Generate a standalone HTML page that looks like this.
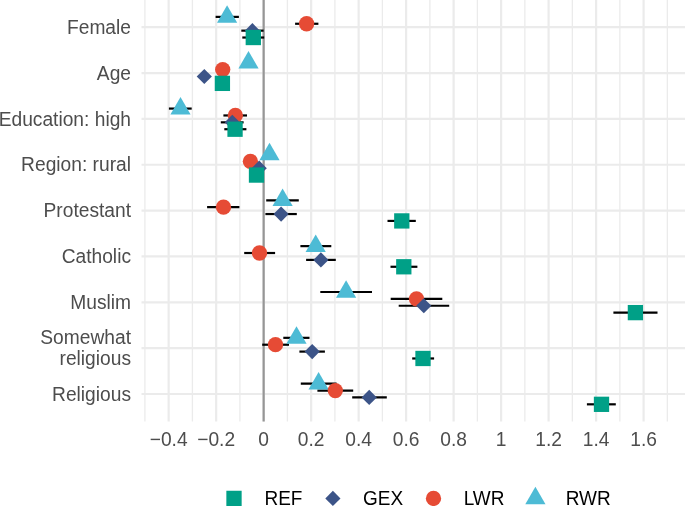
<!DOCTYPE html>
<html><head><meta charset="utf-8"><style>
html,body{margin:0;padding:0;background:#fff;}
body{width:685px;height:506px;overflow:hidden;}
svg{display:block;will-change:transform;}
text{font-family:"Liberation Sans",sans-serif;}
</style></head><body>
<svg width="685" height="506" viewBox="0 0 685 506">
<rect width="685" height="506" fill="#fff"/>

<line x1="144.91" y1="0" x2="144.91" y2="421.5" stroke="#EBEBEB" stroke-width="1.3"/>
<line x1="192.41" y1="0" x2="192.41" y2="421.5" stroke="#EBEBEB" stroke-width="1.3"/>
<line x1="239.9" y1="0" x2="239.9" y2="421.5" stroke="#EBEBEB" stroke-width="1.3"/>
<line x1="287.4" y1="0" x2="287.4" y2="421.5" stroke="#EBEBEB" stroke-width="1.3"/>
<line x1="334.89" y1="0" x2="334.89" y2="421.5" stroke="#EBEBEB" stroke-width="1.3"/>
<line x1="382.38" y1="0" x2="382.38" y2="421.5" stroke="#EBEBEB" stroke-width="1.3"/>
<line x1="429.88" y1="0" x2="429.88" y2="421.5" stroke="#EBEBEB" stroke-width="1.3"/>
<line x1="477.37" y1="0" x2="477.37" y2="421.5" stroke="#EBEBEB" stroke-width="1.3"/>
<line x1="524.87" y1="0" x2="524.87" y2="421.5" stroke="#EBEBEB" stroke-width="1.3"/>
<line x1="572.36" y1="0" x2="572.36" y2="421.5" stroke="#EBEBEB" stroke-width="1.3"/>
<line x1="619.86" y1="0" x2="619.86" y2="421.5" stroke="#EBEBEB" stroke-width="1.3"/>
<line x1="667.35" y1="0" x2="667.35" y2="421.5" stroke="#EBEBEB" stroke-width="1.3"/>
<line x1="141.5" y1="27.2" x2="685" y2="27.2" stroke="#EBEBEB" stroke-width="2.2"/>
<line x1="141.5" y1="73.05" x2="685" y2="73.05" stroke="#EBEBEB" stroke-width="2.2"/>
<line x1="141.5" y1="118.9" x2="685" y2="118.9" stroke="#EBEBEB" stroke-width="2.2"/>
<line x1="141.5" y1="164.75" x2="685" y2="164.75" stroke="#EBEBEB" stroke-width="2.2"/>
<line x1="141.5" y1="210.6" x2="685" y2="210.6" stroke="#EBEBEB" stroke-width="2.2"/>
<line x1="141.5" y1="256.45" x2="685" y2="256.45" stroke="#EBEBEB" stroke-width="2.2"/>
<line x1="141.5" y1="302.3" x2="685" y2="302.3" stroke="#EBEBEB" stroke-width="2.2"/>
<line x1="141.5" y1="348.15" x2="685" y2="348.15" stroke="#EBEBEB" stroke-width="2.2"/>
<line x1="141.5" y1="394" x2="685" y2="394" stroke="#EBEBEB" stroke-width="2.2"/>
<line x1="168.66" y1="0" x2="168.66" y2="421.5" stroke="#EBEBEB" stroke-width="2.2"/>
<line x1="216.16" y1="0" x2="216.16" y2="421.5" stroke="#EBEBEB" stroke-width="2.2"/>
<line x1="263.65" y1="0" x2="263.65" y2="421.5" stroke="#EBEBEB" stroke-width="2.2"/>
<line x1="311.14" y1="0" x2="311.14" y2="421.5" stroke="#EBEBEB" stroke-width="2.2"/>
<line x1="358.64" y1="0" x2="358.64" y2="421.5" stroke="#EBEBEB" stroke-width="2.2"/>
<line x1="406.13" y1="0" x2="406.13" y2="421.5" stroke="#EBEBEB" stroke-width="2.2"/>
<line x1="453.63" y1="0" x2="453.63" y2="421.5" stroke="#EBEBEB" stroke-width="2.2"/>
<line x1="501.12" y1="0" x2="501.12" y2="421.5" stroke="#EBEBEB" stroke-width="2.2"/>
<line x1="548.61" y1="0" x2="548.61" y2="421.5" stroke="#EBEBEB" stroke-width="2.2"/>
<line x1="596.11" y1="0" x2="596.11" y2="421.5" stroke="#EBEBEB" stroke-width="2.2"/>
<line x1="643.6" y1="0" x2="643.6" y2="421.5" stroke="#EBEBEB" stroke-width="2.2"/>
<line x1="263.65" y1="0" x2="263.65" y2="421.5" stroke="#969696" stroke-width="2.2"/>
<line x1="242.3" y1="37.52" x2="264.2" y2="37.52" stroke="#000" stroke-width="2.2"/>
<line x1="241.3" y1="30.64" x2="263.6" y2="30.64" stroke="#000" stroke-width="2.2"/>
<line x1="295.1" y1="23.76" x2="318.4" y2="23.76" stroke="#000" stroke-width="2.2"/>
<line x1="215.6" y1="16.88" x2="238.9" y2="16.88" stroke="#000" stroke-width="2.2"/>
<line x1="224.3" y1="129.22" x2="246.4" y2="129.22" stroke="#000" stroke-width="2.2"/>
<line x1="220.8" y1="122.34" x2="243.6" y2="122.34" stroke="#000" stroke-width="2.2"/>
<line x1="223.4" y1="115.46" x2="247" y2="115.46" stroke="#000" stroke-width="2.2"/>
<line x1="168.9" y1="108.58" x2="191.7" y2="108.58" stroke="#000" stroke-width="2.2"/>
<line x1="387.5" y1="220.92" x2="415.8" y2="220.92" stroke="#000" stroke-width="2.2"/>
<line x1="265.4" y1="214.04" x2="296.8" y2="214.04" stroke="#000" stroke-width="2.2"/>
<line x1="207.1" y1="207.16" x2="239.4" y2="207.16" stroke="#000" stroke-width="2.2"/>
<line x1="266.2" y1="200.28" x2="298.8" y2="200.28" stroke="#000" stroke-width="2.2"/>
<line x1="390.5" y1="266.77" x2="417.4" y2="266.77" stroke="#000" stroke-width="2.2"/>
<line x1="306.1" y1="259.89" x2="335.8" y2="259.89" stroke="#000" stroke-width="2.2"/>
<line x1="244.2" y1="253.01" x2="275.1" y2="253.01" stroke="#000" stroke-width="2.2"/>
<line x1="300.4" y1="246.13" x2="331.3" y2="246.13" stroke="#000" stroke-width="2.2"/>
<line x1="613.4" y1="312.62" x2="657.5" y2="312.62" stroke="#000" stroke-width="2.2"/>
<line x1="398.7" y1="305.74" x2="449.2" y2="305.74" stroke="#000" stroke-width="2.2"/>
<line x1="390.7" y1="298.86" x2="442.3" y2="298.86" stroke="#000" stroke-width="2.2"/>
<line x1="320.3" y1="291.98" x2="372" y2="291.98" stroke="#000" stroke-width="2.2"/>
<line x1="412.2" y1="358.47" x2="434.1" y2="358.47" stroke="#000" stroke-width="2.2"/>
<line x1="299.4" y1="351.59" x2="324.9" y2="351.59" stroke="#000" stroke-width="2.2"/>
<line x1="262.2" y1="344.71" x2="289" y2="344.71" stroke="#000" stroke-width="2.2"/>
<line x1="283.3" y1="337.83" x2="309.5" y2="337.83" stroke="#000" stroke-width="2.2"/>
<line x1="586.9" y1="404.32" x2="615.8" y2="404.32" stroke="#000" stroke-width="2.2"/>
<line x1="352.2" y1="397.44" x2="386.8" y2="397.44" stroke="#000" stroke-width="2.2"/>
<line x1="317.4" y1="390.56" x2="353.2" y2="390.56" stroke="#000" stroke-width="2.2"/>
<line x1="300.8" y1="383.68" x2="336.6" y2="383.68" stroke="#000" stroke-width="2.2"/>
<path d="M227.1 5.21L237.2 22.71L217 22.71Z" fill="#4DBBD5"/>
<circle cx="306.6" cy="23.76" r="7.65" fill="#E64B35"/>
<path d="M252.4 23.04L260 30.64L252.4 38.24L244.8 30.64Z" fill="#3C5488"/>
<rect x="245.65" y="29.87" width="15.3" height="15.3" fill="#00A087"/>
<path d="M248.5 51.06L258.6 68.56L238.4 68.56Z" fill="#4DBBD5"/>
<circle cx="222.7" cy="69.61" r="7.65" fill="#E64B35"/>
<path d="M204.3 68.89L211.9 76.49L204.3 84.09L196.7 76.49Z" fill="#3C5488"/>
<rect x="214.75" y="75.72" width="15.3" height="15.3" fill="#00A087"/>
<path d="M180.5 96.91L190.6 114.41L170.4 114.41Z" fill="#4DBBD5"/>
<circle cx="235.35" cy="115.46" r="7.65" fill="#E64B35"/>
<path d="M232.3 114.74L239.9 122.34L232.3 129.94L224.7 122.34Z" fill="#3C5488"/>
<rect x="227.4" y="121.57" width="15.3" height="15.3" fill="#00A087"/>
<path d="M269.5 142.76L279.6 160.26L259.4 160.26Z" fill="#4DBBD5"/>
<circle cx="250.4" cy="161.31" r="7.65" fill="#E64B35"/>
<path d="M259.2 160.59L266.8 168.19L259.2 175.79L251.6 168.19Z" fill="#3C5488"/>
<rect x="248.85" y="167.42" width="15.3" height="15.3" fill="#00A087"/>
<path d="M282.6 188.61L292.7 206.11L272.5 206.11Z" fill="#4DBBD5"/>
<circle cx="223.5" cy="207.16" r="7.65" fill="#E64B35"/>
<path d="M281.1 206.44L288.7 214.04L281.1 221.64L273.5 214.04Z" fill="#3C5488"/>
<rect x="394.15" y="213.27" width="15.3" height="15.3" fill="#00A087"/>
<path d="M315.7 234.46L325.8 251.96L305.6 251.96Z" fill="#4DBBD5"/>
<circle cx="259.5" cy="253.01" r="7.65" fill="#E64B35"/>
<path d="M320.9 252.29L328.5 259.89L320.9 267.49L313.3 259.89Z" fill="#3C5488"/>
<rect x="396.15" y="259.12" width="15.3" height="15.3" fill="#00A087"/>
<path d="M346.1 280.31L356.2 297.81L336 297.81Z" fill="#4DBBD5"/>
<circle cx="416.5" cy="298.86" r="7.65" fill="#E64B35"/>
<path d="M423.8 298.14L431.4 305.74L423.8 313.34L416.2 305.74Z" fill="#3C5488"/>
<rect x="627.75" y="304.97" width="15.3" height="15.3" fill="#00A087"/>
<path d="M296.5 326.16L306.6 343.66L286.4 343.66Z" fill="#4DBBD5"/>
<circle cx="275.5" cy="344.71" r="7.65" fill="#E64B35"/>
<path d="M312.2 343.99L319.8 351.59L312.2 359.19L304.6 351.59Z" fill="#3C5488"/>
<rect x="415.35" y="350.82" width="15.3" height="15.3" fill="#00A087"/>
<path d="M318.6 372.01L328.7 389.51L308.5 389.51Z" fill="#4DBBD5"/>
<circle cx="335.3" cy="390.56" r="7.65" fill="#E64B35"/>
<path d="M369.2 389.84L376.8 397.44L369.2 405.04L361.6 397.44Z" fill="#3C5488"/>
<rect x="593.85" y="396.67" width="15.3" height="15.3" fill="#00A087"/>
<text transform="translate(131 33.8) scale(1 1.03)" font-size="19.2" fill="#4D4D4D" text-anchor="end">Female</text>
<text transform="translate(131 79.65) scale(1 1.03)" font-size="19.2" fill="#4D4D4D" text-anchor="end">Age</text>
<text transform="translate(131 125.5) scale(1 1.03)" font-size="19.2" fill="#4D4D4D" text-anchor="end">Education: high</text>
<text transform="translate(131 171.35) scale(1 1.03)" font-size="19.2" fill="#4D4D4D" text-anchor="end">Region: rural</text>
<text transform="translate(131 217.2) scale(1 1.03)" font-size="19.2" fill="#4D4D4D" text-anchor="end">Protestant</text>
<text transform="translate(131 263.05) scale(1 1.03)" font-size="19.2" fill="#4D4D4D" text-anchor="end">Catholic</text>
<text transform="translate(131 308.9) scale(1 1.03)" font-size="19.2" fill="#4D4D4D" text-anchor="end">Muslim</text>
<text transform="translate(131 344.4) scale(1 1.03)" font-size="19.2" fill="#4D4D4D" text-anchor="end">Somewhat</text>
<text transform="translate(131 364.8) scale(1 1.03)" font-size="19.2" fill="#4D4D4D" text-anchor="end">religious</text>
<text transform="translate(131 400.6) scale(1 1.03)" font-size="19.2" fill="#4D4D4D" text-anchor="end">Religious</text>
<text transform="translate(168.66 446) scale(1 1.03)" font-size="19.2" fill="#4D4D4D" text-anchor="middle">−0.4</text>
<text transform="translate(216.16 446) scale(1 1.03)" font-size="19.2" fill="#4D4D4D" text-anchor="middle">−0.2</text>
<text transform="translate(263.65 446) scale(1 1.03)" font-size="19.2" fill="#4D4D4D" text-anchor="middle">0</text>
<text transform="translate(311.14 446) scale(1 1.03)" font-size="19.2" fill="#4D4D4D" text-anchor="middle">0.2</text>
<text transform="translate(358.64 446) scale(1 1.03)" font-size="19.2" fill="#4D4D4D" text-anchor="middle">0.4</text>
<text transform="translate(406.13 446) scale(1 1.03)" font-size="19.2" fill="#4D4D4D" text-anchor="middle">0.6</text>
<text transform="translate(453.63 446) scale(1 1.03)" font-size="19.2" fill="#4D4D4D" text-anchor="middle">0.8</text>
<text transform="translate(501.12 446) scale(1 1.03)" font-size="19.2" fill="#4D4D4D" text-anchor="middle">1</text>
<text transform="translate(548.61 446) scale(1 1.03)" font-size="19.2" fill="#4D4D4D" text-anchor="middle">1.2</text>
<text transform="translate(596.11 446) scale(1 1.03)" font-size="19.2" fill="#4D4D4D" text-anchor="middle">1.4</text>
<text transform="translate(643.6 446) scale(1 1.03)" font-size="19.2" fill="#4D4D4D" text-anchor="middle">1.6</text>
<rect x="226.35" y="490.75" width="15.3" height="15.3" fill="#00A087"/>
<path d="M332.9 490.8L340.5 498.4L332.9 506L325.3 498.4Z" fill="#3C5488"/>
<circle cx="433.5" cy="498.4" r="7.65" fill="#E64B35"/>
<path d="M535.4 486.73L545.5 504.23L525.3 504.23Z" fill="#4DBBD5"/>
<text transform="translate(264.5 504.6) scale(1 1.03)" font-size="19" fill="#000">REF</text>
<text transform="translate(363 504.6) scale(1 1.03)" font-size="19" fill="#000">GEX</text>
<text transform="translate(463.7 504.6) scale(1 1.03)" font-size="19" fill="#000">LWR</text>
<text transform="translate(565.7 504.6) scale(1 1.03)" font-size="19" fill="#000">RWR</text>
</svg>
</body></html>
